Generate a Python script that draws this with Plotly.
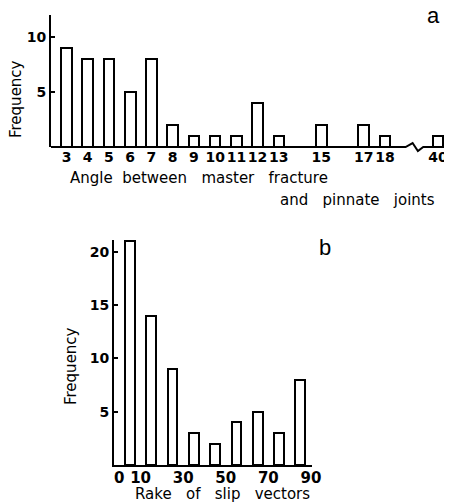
import plotly.graph_objects as go

# ---------------- data ----------------
angle_labels = ["3", "4", "5", "6", "7", "8", "9", "10", "11", "12", "13", "15", "17", "18", "40"]
angle_values = [3, 4, 5, 6, 7, 8, 9, 10, 11, 12, 13, 15, 17, 18, 40]
angle_freq = [9, 8, 8, 5, 8, 2, 1, 1, 1, 4, 1, 2, 2, 1, 1]
angle_freq_ticks = [5, 10]

rake_bin_centers = [5, 15, 25, 35, 45, 55, 65, 75, 85]
rake_freq = [21, 14, 9, 3, 2, 4, 5, 3, 8]
rake_tick_vals = [0, 10, 30, 50, 70, 90]
rake_tick_labels = ["0", "10", "30", "50", "70", "90"]
rake_freq_ticks = [5, 10, 15, 20]

# ---------------- geometry ----------------
OFF = 8                     # page body margin
W, H = 452 - OFF, 503 - OFF
BREAK_POS = 20.5            # where the value beyond the axis break sits


def angle_pos(v):
    return v if v <= 18 else BREAK_POS


A_PX = (51, 447)          # left / right pixel of panel a (window coords)
A_PY = (15, 147)          # top / bottom pixel of panel a
A_XR = [2.27, 20.92]
A_YR = [0, 12]

B_PX = (114, 312)
B_PY = (240, 465)
B_XR = [-2.5, 90.5]
B_YR = [0, 21.1]


def px_x(p):
    return (p - OFF) / W


def px_y(p):
    return 1 - (p - OFF) / H


def a_data_to_paper(x, y):
    fx = (x - A_XR[0]) / (A_XR[1] - A_XR[0])
    fy = (y - A_YR[0]) / (A_YR[1] - A_YR[0])
    px = A_PX[0] + fx * (A_PX[1] - A_PX[0])
    py = A_PY[1] - fy * (A_PY[1] - A_PY[0])
    return px_x(px), px_y(py)


TICK_FONT = dict(family="DejaVu Sans", size=14, color="black", weight="bold")
TITLE_FONT = dict(family="DejaVu Sans", size=15, color="black")
SP = "\u00a0\u00a0\u00a0"
SP2 = "\u00a0\u00a0"

fig = go.Figure()

fig.add_trace(go.Bar(
    x=[angle_pos(v) for v in angle_values], y=angle_freq, width=0.5,
    marker=dict(color="white", line=dict(color="black", width=2)),
    xaxis="x", yaxis="y", showlegend=False, hoverinfo="skip"))

fig.add_trace(go.Bar(
    x=rake_bin_centers, y=rake_freq, width=4.6,
    marker=dict(color="white", line=dict(color="black", width=2)),
    xaxis="x2", yaxis="y2", showlegend=False, hoverinfo="skip"))

common_y = dict(showline=True, linecolor="black", linewidth=2, ticks="inside",
                ticklen=4, tickwidth=1.5, tickcolor="black", showgrid=False,
                zeroline=False, tickfont=TICK_FONT, automargin=False)
common_x = dict(showgrid=False, zeroline=False, ticks="", tickangle=0,
                automargin=False)

fig.update_layout(
    width=W, height=H,
    margin=dict(l=0, r=0, t=0, b=0),
    paper_bgcolor="white", plot_bgcolor="white",
    bargap=0,
    xaxis=dict(domain=[px_x(A_PX[0]), px_x(A_PX[1])], range=A_XR,
               tickvals=[angle_pos(v) for v in angle_values], ticktext=angle_labels,
               showline=False, anchor="y", tickfont=TICK_FONT, **common_x),
    yaxis=dict(domain=[px_y(A_PY[1]), px_y(A_PY[0])], range=A_YR,
               tickvals=angle_freq_ticks, anchor="x", **common_y),
    xaxis2=dict(domain=[px_x(B_PX[0]), px_x(B_PX[1])], range=B_XR,
                tickvals=rake_tick_vals, ticktext=rake_tick_labels,
                showline=True, linecolor="black", linewidth=2, anchor="y2",
                ticklabelstandoff=-2,
                tickfont=dict(TICK_FONT, size=15), **common_x),
    yaxis2=dict(domain=[px_y(B_PY[1]), px_y(B_PY[0])], range=B_YR,
                tickvals=rake_freq_ticks, anchor="x2", **common_y),
)

# broken baseline of panel a (with zig-zag before the last class)
pts = [(A_XR[0], 0), (18.97, 0), (19.3, 0.36), (19.55, -0.36), (19.8, 0), (A_XR[1], 0)]
path = ""
for i, (x, y) in enumerate(pts):
    px, py = a_data_to_paper(x, y)
    path += ("M" if i == 0 else "L") + f"{px:.5f},{py:.5f} "
fig.add_shape(type="path", path=path, xref="paper", yref="paper",
              line=dict(color="black", width=2), layer="above")


# text labels
def ann(text, x, y, font, xanchor="center", yanchor="middle", angle=0):
    fig.add_annotation(text=text, x=px_x(x), y=px_y(y), xref="paper", yref="paper",
                       showarrow=False, font=font, xanchor=xanchor, yanchor=yanchor,
                       textangle=angle)


ann("Angle" + SP2 + "between" + SP + "master" + SP + "fracture", 68, 178, TITLE_FONT, xanchor="left")
ann("and" + SP + "pinnate" + SP + "joints", 278, 200, TITLE_FONT, xanchor="left")
ann("Frequency", 16, 99, TITLE_FONT, angle=-90)
ann("Frequency", 71, 366, TITLE_FONT, angle=-90)
ann("Rake" + SP + "of" + SP + "slip" + SP + "vectors", 133, 494, TITLE_FONT, xanchor="left")
ann("a", 433, 16, dict(family="Liberation Sans", size=22, color="black"))
ann("b", 325, 247, dict(family="Liberation Sans", size=22, color="black"))

fig.write_html("out.html")
